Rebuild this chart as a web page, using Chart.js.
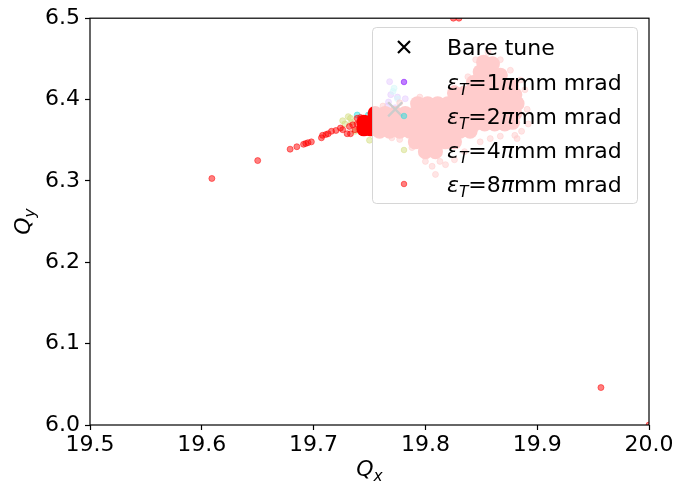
<!DOCTYPE html>
<html>
<head>
<meta charset="utf-8">
<script src="https://cdn.jsdelivr.net/npm/chart.js@4.4.1/dist/chart.umd.min.js"></script>
<style>
  html, body { margin: 0; padding: 0; background: #fff; }
  #wrap { width: 677px; height: 488px; }
</style>
</head>
<body>
<div id="wrap"><canvas id="tuneChart"></canvas></div>
<script>
    // axes
    const xTicks = [19.5, 19.6, 19.7, 19.8, 19.9, 20.0];
    const xTickLabels = ['19.5', '19.6', '19.7', '19.8', '19.9', '20.0'];
    const yTicks = [6.0, 6.1, 6.2, 6.3, 6.4, 6.5];
    const yTickLabels = ['6.0', '6.1', '6.2', '6.3', '6.4', '6.5'];

    // series: [Qx, Qy]
    const bareTune = [[19.773, 6.388]];
    const emittances = [1, 2, 4, 8];

    const eps1Points = [
        [19.768, 6.422], [19.769, 6.406], [19.775, 6.403], [19.782, 6.401],
        [19.767, 6.397], [19.766, 6.392], [19.768, 6.358], [19.773, 6.390]
    ];
    const eps2Points = [
        [19.739, 6.381], [19.749, 6.381], [19.772, 6.414], [19.771, 6.410], [19.775, 6.401]
    ];
    const eps4Points = [
        [19.731, 6.379], [19.728, 6.370], [19.734, 6.372], [19.740, 6.363],
        [19.737, 6.361], [19.733, 6.377], [19.750, 6.350], [19.726, 6.374]
    ];
    // eps 8: tail, outliers and the scattered edge of the cloud
    const eps8Points = [
        [19.609, 6.303], [19.650, 6.325], [19.679, 6.339], [19.685, 6.342],
        [19.691, 6.345], [19.693, 6.346], [19.695, 6.347], [19.698, 6.348],
        [19.707, 6.353], [19.708, 6.356], [19.711, 6.357], [19.713, 6.358],
        [19.716, 6.361], [19.720, 6.362], [19.724, 6.365], [19.726, 6.363],
        [19.730, 6.358], [19.733, 6.358], [19.732, 6.367], [19.735, 6.369],
        [19.739, 6.370], [19.739, 6.377], [19.742, 6.378], [19.743, 6.373],
        [19.737, 6.363],
        [19.957, 6.046], [19.825, 6.500], [19.830, 6.500], [20.000, 6.000],
        [19.809, 6.308], [19.806, 6.318], [19.818, 6.320], [19.826, 6.326],
        [19.835, 6.336], [19.849, 6.348], [19.858, 6.352], [19.867, 6.355],
        [19.880, 6.356], [19.886, 6.361], [19.892, 6.370], [19.891, 6.388],
        [19.889, 6.412], [19.885, 6.424], [19.876, 6.436], [19.867, 6.449],
        [19.856, 6.458], [19.845, 6.449], [19.838, 6.428], [19.826, 6.414],
        [19.795, 6.403], [19.777, 6.396], [19.762, 6.392], [19.770, 6.353],
        [19.777, 6.351], [19.788, 6.341], [19.800, 6.324], [19.882, 6.352],
        [19.813, 6.324]
    ];
    // eps 8: dense core of the cloud
    const eps8Core = [
        [19.745, 6.372], [19.751, 6.372], [19.745, 6.364], [19.751, 6.364],
        [19.852, 6.446], [19.860, 6.444],
        [19.849, 6.434], [19.858, 6.432], [19.867, 6.430],
        [19.843, 6.421], [19.851, 6.420], [19.860, 6.419], [19.869, 6.419], [19.877, 6.417],
        [19.826, 6.408], [19.835, 6.408], [19.844, 6.407], [19.853, 6.407], [19.862, 6.407],
        [19.871, 6.407], [19.880, 6.406],
        [19.793, 6.395], [19.802, 6.395], [19.811, 6.395], [19.820, 6.395],
        [19.829, 6.395], [19.838, 6.395], [19.847, 6.395], [19.856, 6.395],
        [19.865, 6.395], [19.874, 6.395], [19.882, 6.395],
        [19.755, 6.383], [19.764, 6.383], [19.773, 6.383], [19.782, 6.383],
        [19.791, 6.383], [19.800, 6.383], [19.809, 6.383], [19.818, 6.383],
        [19.826, 6.383], [19.835, 6.383], [19.844, 6.383], [19.853, 6.383],
        [19.862, 6.383], [19.871, 6.383], [19.880, 6.383],
        [19.755, 6.370], [19.764, 6.370], [19.773, 6.370], [19.782, 6.370],
        [19.791, 6.370], [19.800, 6.370], [19.809, 6.370], [19.818, 6.370],
        [19.826, 6.370], [19.835, 6.370], [19.844, 6.370], [19.853, 6.370],
        [19.862, 6.370], [19.871, 6.370], [19.878, 6.372],
        [19.759, 6.361], [19.768, 6.361], [19.777, 6.361], [19.786, 6.361],
        [19.795, 6.361], [19.804, 6.361], [19.813, 6.361], [19.822, 6.361],
        [19.831, 6.361], [19.840, 6.361],
        [19.791, 6.348], [19.800, 6.348], [19.809, 6.348], [19.818, 6.348], [19.826, 6.348],
        [19.800, 6.336], [19.809, 6.336]
    ];

    const seriesColors = [
        'rgba(128, 0, 255, 0.5)',
        'rgba(42, 221, 221, 0.5)',
        'rgba(212, 221, 128, 0.5)',
        'rgba(255, 0, 0, 0.5)'
    ];

    const FONT = "'DejaVu Sans', sans-serif";
    const toXY = arr => arr.map(p => ({ x: p[0], y: p[1] }));

    // draw a mathtext-like label: [{t, it, sub}]
    function drawParts(ctx, x, y, parts, size, measureOnly) {
        let cx = x;
        parts.forEach(p => {
            const s = p.sub ? size * 0.7 : size;
            ctx.font = (p.it ? 'italic ' : '') + s + 'px ' + FONT;
            if (!measureOnly) ctx.fillText(p.t, cx, y + (p.sub ? size * 0.23 : 0));
            cx += ctx.measureText(p.t).width;
        });
        return cx - x;
    }

    function drawCross(ctx, x, y, h, color, lw) {
        ctx.strokeStyle = color;
        ctx.lineWidth = lw;
        ctx.beginPath();
        ctx.moveTo(x - h, y - h); ctx.lineTo(x + h, y + h);
        ctx.moveTo(x - h, y + h); ctx.lineTo(x + h, y - h);
        ctx.stroke();
    }

    const overlayPlugin = {
        id: 'overlay',
        afterDatasetsDraw(chart) {
            const ctx = chart.ctx;
            ctx.save();
            // legend box (semi transparent, like matplotlib)
            const bx = 372.5, by = 27.5, bw = 265, bh = 176, r = 4;
            ctx.beginPath();
            ctx.moveTo(bx + r, by);
            ctx.arcTo(bx + bw, by, bx + bw, by + bh, r);
            ctx.arcTo(bx + bw, by + bh, bx, by + bh, r);
            ctx.arcTo(bx, by + bh, bx, by, r);
            ctx.arcTo(bx, by, bx + bw, by, r);
            ctx.closePath();
            ctx.fillStyle = 'rgba(255, 255, 255, 0.8)';
            ctx.fill();
            ctx.strokeStyle = 'rgba(204, 204, 204, 0.8)';
            ctx.lineWidth = 1;
            ctx.stroke();

            const mx = 404, tx = 447, rowY = [47, 82, 116, 150, 184];
            ctx.textBaseline = 'alphabetic';
            drawCross(ctx, mx, rowY[0], 6, '#000', 2.2);
            ctx.fillStyle = '#000';
            ctx.font = '22px ' + FONT;
            ctx.fillText('Bare tune', tx, rowY[0] + 8);
            emittances.forEach((e, i) => {
                const y = rowY[i + 1];
                ctx.beginPath();
                ctx.arc(mx, y, 2.8, 0, Math.PI * 2);
                ctx.fillStyle = seriesColors[i];
                ctx.fill();
                ctx.strokeStyle = seriesColors[i];
                ctx.lineWidth = 1;
                ctx.stroke();
                ctx.fillStyle = '#000';
                drawParts(ctx, tx, y + 8, [
                    { t: 'ε', it: true }, { t: 'T', it: true, sub: true },
                    { t: '=' + e }, { t: 'π', it: true }, { t: 'mm mrad' }
                ], 22);
            });
            ctx.restore();
        },
        afterDraw(chart) {
            const ctx = chart.ctx;
            const a = chart.chartArea;
            ctx.save();
            // four spines
            ctx.strokeStyle = '#000';
            ctx.lineWidth = 1.2;
            ctx.strokeRect(a.left, a.top, a.right - a.left, a.bottom - a.top);
            // axis titles
            ctx.fillStyle = '#000';
            ctx.textBaseline = 'alphabetic';
            const qx = [{ t: 'Q', it: true }, { t: 'x', it: true, sub: true }];
            const wx = drawParts(ctx, 0, 0, qx, 22, true);
            drawParts(ctx, (a.left + a.right) / 2 - wx / 2, 476, qx, 22);
            const qy = [{ t: 'Q', it: true }, { t: 'y', it: true, sub: true }];
            const wy = drawParts(ctx, 0, 0, qy, 22, true);
            ctx.translate(30, (a.top + a.bottom) / 2);
            ctx.rotate(-Math.PI / 2);
            drawParts(ctx, -wy / 2, 0, qy, 22);
            ctx.restore();
        }
    };

    const ctx1 = document.getElementById('tuneChart').getContext('2d');

    const dotStyle = color => ({
        pointRadius: 3,
        backgroundColor: color,
        borderColor: color,
        borderWidth: 1,
        clip: 0
    });

    new Chart(ctx1, {
        type: 'scatter',
        data: {
            datasets: [
                {
                    label: 'Bare tune',
                    data: toXY(bareTune),
                    pointStyle: 'crossRot',
                    pointRadius: 10,
                    borderColor: '#000',
                    borderWidth: 2.4
                },
                {
                    label: 'eps8 core',
                    data: toXY(eps8Core),
                    pointRadius: 7.5,
                    backgroundColor: 'rgb(255, 0, 0)',
                    borderWidth: 0,
                    clip: 0
                },
                Object.assign({ label: 'eps8', data: toXY(eps8Points) }, dotStyle(seriesColors[3])),
                Object.assign({ label: 'eps4', data: toXY(eps4Points) }, dotStyle(seriesColors[2])),
                Object.assign({ label: 'eps2', data: toXY(eps2Points) }, dotStyle(seriesColors[1])),
                Object.assign({ label: 'eps1', data: toXY(eps1Points) }, dotStyle(seriesColors[0]))
            ]
        },
        options: {
            responsive: true,
            maintainAspectRatio: false,
            animation: false,
            events: [],
            layout: { padding: { top: 16, right: 28, left: 0, bottom: 0 } },
            plugins: {
                legend: { display: false },
                tooltip: { enabled: false }
            },
            scales: {
                x: {
                    type: 'linear',
                    min: 19.5,
                    max: 20.0,
                    afterBuildTicks: axis => { axis.ticks = xTicks.map(v => ({ value: v })); },
                    afterFit: axis => { axis.height = 63; },
                    border: { display: false },
                    grid: { drawOnChartArea: false, drawTicks: true, tickLength: 5, tickColor: '#000', tickWidth: 1.2 },
                    ticks: {
                        color: '#000',
                        font: { family: FONT, size: 22 },
                        padding: 2,
                        maxRotation: 0,
                        autoSkip: false,
                        callback: (v, i) => xTickLabels[i]
                    }
                },
                y: {
                    type: 'linear',
                    min: 6.0,
                    max: 6.5,
                    afterBuildTicks: axis => { axis.ticks = yTicks.map(v => ({ value: v })); },
                    afterFit: axis => { axis.width = 90; },
                    border: { display: false },
                    grid: { drawOnChartArea: false, drawTicks: true, tickLength: 5, tickColor: '#000', tickWidth: 1.2 },
                    ticks: {
                        color: '#000',
                        font: { family: FONT, size: 22 },
                        padding: 5,
                        autoSkip: false,
                        callback: (v, i) => yTickLabels[i]
                    }
                }
            }
        },
        plugins: [overlayPlugin]
    });
</script>
</body>
</html>
